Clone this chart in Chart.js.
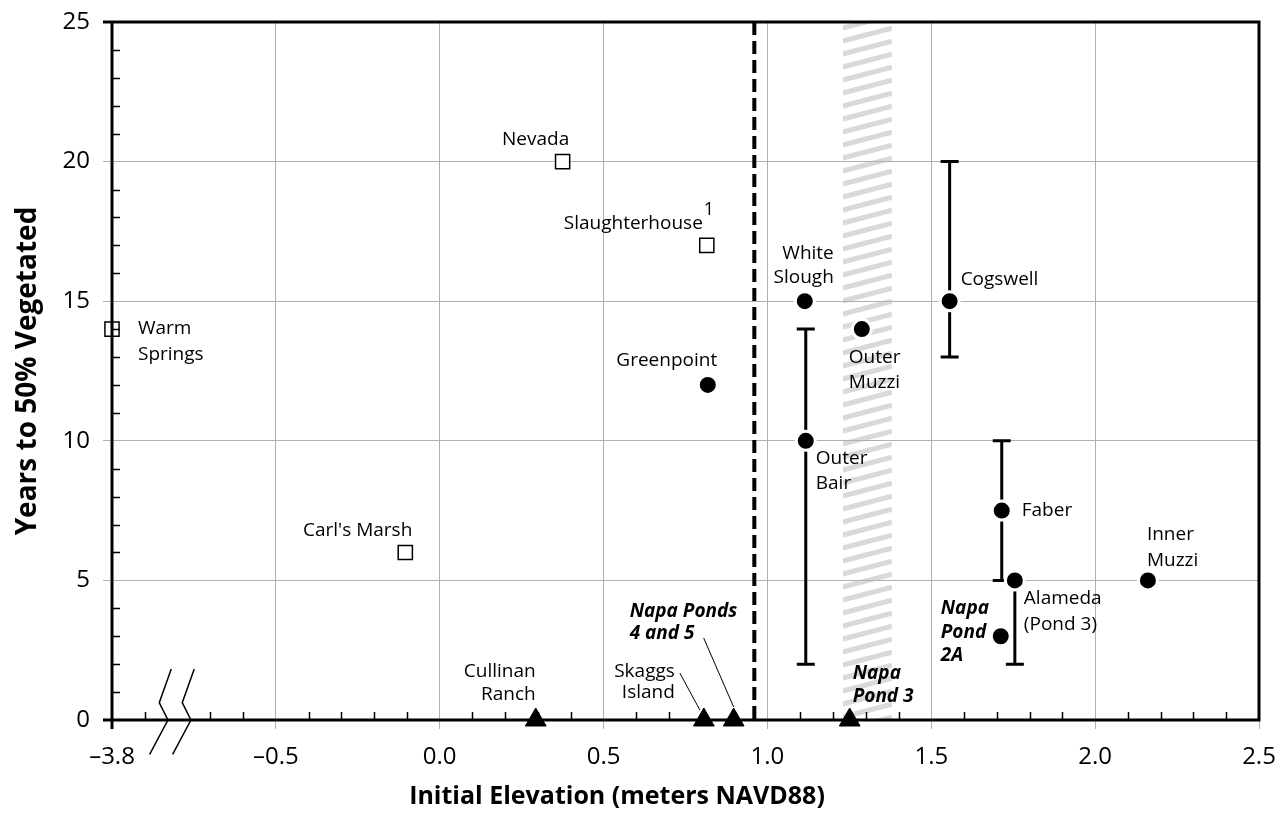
<!DOCTYPE html>
<html>
<head>
<meta charset="utf-8">
<script src="https://cdn.jsdelivr.net/npm/chart.js@4"></script>
<style>
  html, body { margin: 0; padding: 0; background: #fff; }
  #wrap { width: 1286px; height: 823px; }
</style>
</head>
<body>
<div id="wrap"><canvas id="chart"></canvas></div>
<script>
const FONT = '"Open Sans", sans-serif';

// open squares
const squareNames = ['Warm Springs', 'Nevada', 'Slaughterhouse', "Carl's Marsh"];
const squareElev = [-3.8, 0.375, 0.815, -0.105];
const squareYears = [14, 20, 17, 6];

// filled circles (with ranges where given)
const circleNames = ['White Slough', 'Outer Muzzi', 'Cogswell', 'Greenpoint', 'Outer Bair',
  'Faber', 'Alameda (Pond 3)', 'Inner Muzzi', 'Napa Pond 2A'];
const circleElev = [1.114, 1.288, 1.556, 0.818, 1.117, 1.715, 1.755, 2.161, 1.712];
const circleYears = [15, 14, 15, 12, 10, 7.5, 5, 5, 3];
const circleLow = [null, null, 13, null, 2, 5, 2, null, null];
const circleHigh = [null, null, 20, null, 14, 10, 5, null, null];

// triangles on the axis (not yet vegetated)
const triangleNames = ['Cullinan Ranch', 'Skaggs Island', 'Napa Ponds 4 and 5', 'Napa Pond 3'];
const triangleElev = [0.293, 0.806, 0.897, 1.251];
const triangleYears = [0, 0, 0, 0];

const thresholdElev = 0.96;       // dashed line
const bandElev = [1.23, 1.38];    // hatched band

const xTickValues = [-1.0, -0.5, 0.0, 0.5, 1.0, 1.5, 2.0, 2.5];
const xTickLabels = ['\u20133.8', '\u20130.5', '0.0', '0.5', '1.0', '1.5', '2.0', '2.5'];

// axis is broken: -3.8 is drawn at -1.0
const BREAK_REAL = -3.8, BREAK_AXIS = -1.0;
const toAxis = e => (e <= BREAK_REAL ? BREAK_AXIS : e);
const pts = (elev, years) => elev.map((e, i) => ({ x: toAxis(e), y: years[i] }));

// label placement, pixel offsets from the marker
const labelLayout = [
  { set: 0, i: 0, lines: ['Warm', 'Springs'], dx: 26, dy: [-1, 25], align: 'left' },
  { set: 0, i: 1, lines: ['Nevada'], dx: -27, dy: [-22], align: 'center' },
  { set: 0, i: 2, lines: ['Slaughterhouse'], dx: -4, dy: [-22], align: 'right', sup: '1' },
  { set: 0, i: 3, lines: ["Carl's Marsh"], dx: 7, dy: [-22], align: 'right' },
  { set: 1, i: 0, lines: ['White', 'Slough'], dx: 29, dy: [-48, -24], align: 'right' },
  { set: 1, i: 1, lines: ['Outer', 'Muzzi'], dx: -13, dy: [28, 53], align: 'left' },
  { set: 1, i: 2, lines: ['Cogswell'], dx: 11, dy: [-22], align: 'left' },
  { set: 1, i: 3, lines: ['Greenpoint'], dx: -41, dy: [-24], align: 'center' },
  { set: 1, i: 4, lines: ['Outer', 'Bair'], dx: 10, dy: [18, 43], align: 'left' },
  { set: 1, i: 5, lines: ['Faber'], dx: 20, dy: [0], align: 'left' },
  { set: 1, i: 6, lines: ['Alameda', '(Pond 3)'], dx: 9, dy: [18, 44], align: 'left' },
  { set: 1, i: 7, lines: ['Inner', 'Muzzi'], dx: -1, dy: [-46, -20], align: 'left' },
  { set: 1, i: 8, lines: ['Napa', 'Pond', '2A'], dx: -60, dy: [-28, -4, 19], align: 'left', bold: true },
  { set: 2, i: 0, lines: ['Cullinan', 'Ranch'], dx: 0, dy: [-48, -25], align: 'right' },
  { set: 2, i: 1, lines: ['Skaggs', 'Island'], dx: -29, dy: [-48, -27], align: 'right', leader: [-24, -47, -4, -10] },
  { set: 2, i: 2, lines: ['Napa Ponds', '4 and 5'], dx: -104, dy: [-108, -86], align: 'left', bold: true, leader: [-30, -82, 0, -13] },
  { set: 2, i: 3, lines: ['Napa', 'Pond 3'], dx: 3, dy: [-46, -23], align: 'left', bold: true }
];

const decorPlugin = {
  id: 'decor',
  beforeDraw(chart) {
    const { ctx, chartArea: a, scales: { x } } = chart;
    ctx.save();
    ctx.fillStyle = '#fff';
    ctx.fillRect(0, 0, chart.width, chart.height);
    // hatched band
    const x0 = x.getPixelForValue(bandElev[0]), x1 = x.getPixelForValue(bandElev[1]);
    ctx.beginPath();
    ctx.rect(x0, a.top, x1 - x0, a.bottom - a.top);
    ctx.clip();
    ctx.strokeStyle = '#d9d9d9';
    ctx.lineWidth = 5;
    ctx.beginPath();
    const rise = (x1 - x0) * 0.26;
    for (let y = a.top - 20; y < a.bottom + rise + 20; y += 13) {
      ctx.moveTo(x0, y);
      ctx.lineTo(x1, y - rise);
    }
    ctx.stroke();
    ctx.restore();
  },
  beforeDatasetsDraw(chart) {
    const { ctx, chartArea: a, scales: { x, y } } = chart;
    ctx.save();
    // dashed threshold
    const xd = x.getPixelForValue(thresholdElev);
    ctx.strokeStyle = '#000';
    ctx.lineWidth = 4;
    ctx.setLineDash([13, 6]);
    ctx.beginPath();
    ctx.moveTo(xd, a.top);
    ctx.lineTo(xd, a.bottom);
    ctx.stroke();
    ctx.setLineDash([]);
    // error bars
    ctx.lineWidth = 3;
    circleElev.forEach((e, i) => {
      if (circleLow[i] == null) return;
      const px = x.getPixelForValue(e);
      const yl = y.getPixelForValue(circleLow[i]), yh = y.getPixelForValue(circleHigh[i]);
      ctx.beginPath();
      ctx.moveTo(px, yl); ctx.lineTo(px, yh);
      ctx.moveTo(px - 9, yl); ctx.lineTo(px + 9, yl);
      ctx.moveTo(px - 9, yh); ctx.lineTo(px + 9, yh);
      ctx.stroke();
    });
    ctx.restore();
  },
  afterDatasetsDraw(chart) {
    const { ctx, chartArea: a, scales: { x, y } } = chart;
    ctx.save();
    ctx.strokeStyle = '#000';
    // minor ticks
    ctx.lineWidth = 1.5;
    ctx.beginPath();
    for (let v = 1; v < 25; v++) {
      if (v % 5 === 0) continue;
      const py = Math.round(y.getPixelForValue(v)) + 0.5;
      ctx.moveTo(a.left, py); ctx.lineTo(a.left + 8, py);
    }
    for (let k = -9; k < 25; k++) {
      if (k % 5 === 0 || k === -8) continue;   // -0.8 sits under the break
      const px = Math.round(x.getPixelForValue(k / 10)) + 0.5;
      ctx.moveTo(px, a.bottom); ctx.lineTo(px, a.bottom - 8);
    }
    ctx.stroke();
    // frame
    ctx.lineWidth = 3;
    ctx.beginPath();
    ctx.moveTo(a.left - 9, a.top); ctx.lineTo(a.right, a.top);
    ctx.moveTo(a.left - 9, a.bottom); ctx.lineTo(a.right, a.bottom);
    ctx.moveTo(a.left, a.top); ctx.lineTo(a.left, a.bottom + 9);
    ctx.moveTo(a.right, a.top - 1.5); ctx.lineTo(a.right, a.bottom + 1.5);
    ctx.stroke();
    // axis break
    const cx = x.getPixelForValue(-0.8);
    ctx.lineWidth = 1.5;
    [-3, 20].forEach(off => {
      ctx.beginPath();
      ctx.moveTo(cx + off - 3.3, a.bottom - 51);
      ctx.lineTo(cx + off - 15.3, a.bottom - 17.3);
      ctx.lineTo(cx + off - 6.6, a.bottom);
      ctx.lineTo(cx + off - 24.9, a.bottom + 34.3);
      ctx.stroke();
    });
    ctx.restore();
  },
  afterDraw(chart) {
    const { ctx } = chart;
    ctx.save();
    ctx.fillStyle = '#000';
    ctx.textBaseline = 'middle';
    labelLayout.forEach(l => {
      const el = chart.getDatasetMeta(l.set).data[l.i];
      ctx.font = (l.bold ? 'italic bold 19px ' : '19px ') + FONT;
      ctx.textAlign = l.align;
      l.lines.forEach((t, k) => ctx.fillText(t, el.x + l.dx, el.y + l.dy[k]));
      if (l.sup) {
        ctx.font = '18px ' + FONT;
        ctx.textAlign = 'left';
        ctx.fillText(l.sup, el.x + l.dx + 1, el.y + l.dy[0] - 13);
      }
      if (l.leader) {
        ctx.strokeStyle = '#000';
        ctx.lineWidth = 1;
        ctx.beginPath();
        ctx.moveTo(el.x + l.leader[0], el.y + l.leader[1]);
        ctx.lineTo(el.x + l.leader[2], el.y + l.leader[3]);
        ctx.stroke();
      }
    });
    // axis titles
    ctx.font = 'bold 25px ' + FONT;
    ctx.textAlign = 'center';
    ctx.fillText('Initial Elevation (meters NAVD88)', 617, 797);
    ctx.font = 'bold 28px ' + FONT;
    ctx.translate(28, 371);
    ctx.rotate(-Math.PI / 2);
    ctx.fillText('Years to 50% Vegetated', 0, 0);
    ctx.restore();
  }
};

new Chart(document.getElementById('chart'), {
  type: 'scatter',
  data: {
    datasets: [
      {
        label: 'squares',
        data: pts(squareElev, squareYears),
        pointStyle: 'rect', pointRadius: 10,
        backgroundColor: '#fff', borderColor: '#000', borderWidth: 1.5,
        clip: false
      },
      {
        label: 'circles',
        data: pts(circleElev, circleYears),
        pointStyle: 'circle', pointRadius: 9.5,
        backgroundColor: '#000', borderColor: '#fff', borderWidth: 3,
        clip: false
      },
      {
        label: 'triangles',
        data: pts(triangleElev, triangleYears),
        pointStyle: 'triangle', pointRadius: 12,
        backgroundColor: '#000', borderColor: '#000', borderWidth: 1,
        clip: false
      }
    ]
  },
  options: {
    responsive: true,
    maintainAspectRatio: false,
    animation: false,
    events: [],
    layout: { padding: { top: 22, right: 27, left: 0, bottom: 0 } },
    plugins: { legend: { display: false }, tooltip: { enabled: false } },
    scales: {
      x: {
        type: 'linear', min: -1, max: 2.5,
        afterFit: s => { s.height = 103; s.paddingLeft = 0; s.paddingRight = 0; },
        afterBuildTicks: s => { s.ticks = xTickValues.map(v => ({ value: v })); },
        ticks: {
          color: '#000', padding: 14,
          font: { family: FONT, size: 24 },
          callback: v => xTickLabels[xTickValues.indexOf(v)]
        },
        grid: { color: '#b0b0b0', lineWidth: 1, tickLength: 9 },
        border: { display: false }
      },
      y: {
        min: 0, max: 25,
        afterFit: s => { s.width = 112; s.paddingTop = 0; s.paddingBottom = 0; },
        ticks: { stepSize: 5, color: '#000', padding: 13, font: { family: FONT, size: 24 } },
        grid: { color: '#b0b0b0', lineWidth: 1, tickLength: 9 },
        border: { display: false }
      }
    }
  },
  plugins: [decorPlugin]
});
</script>
</body>
</html>
